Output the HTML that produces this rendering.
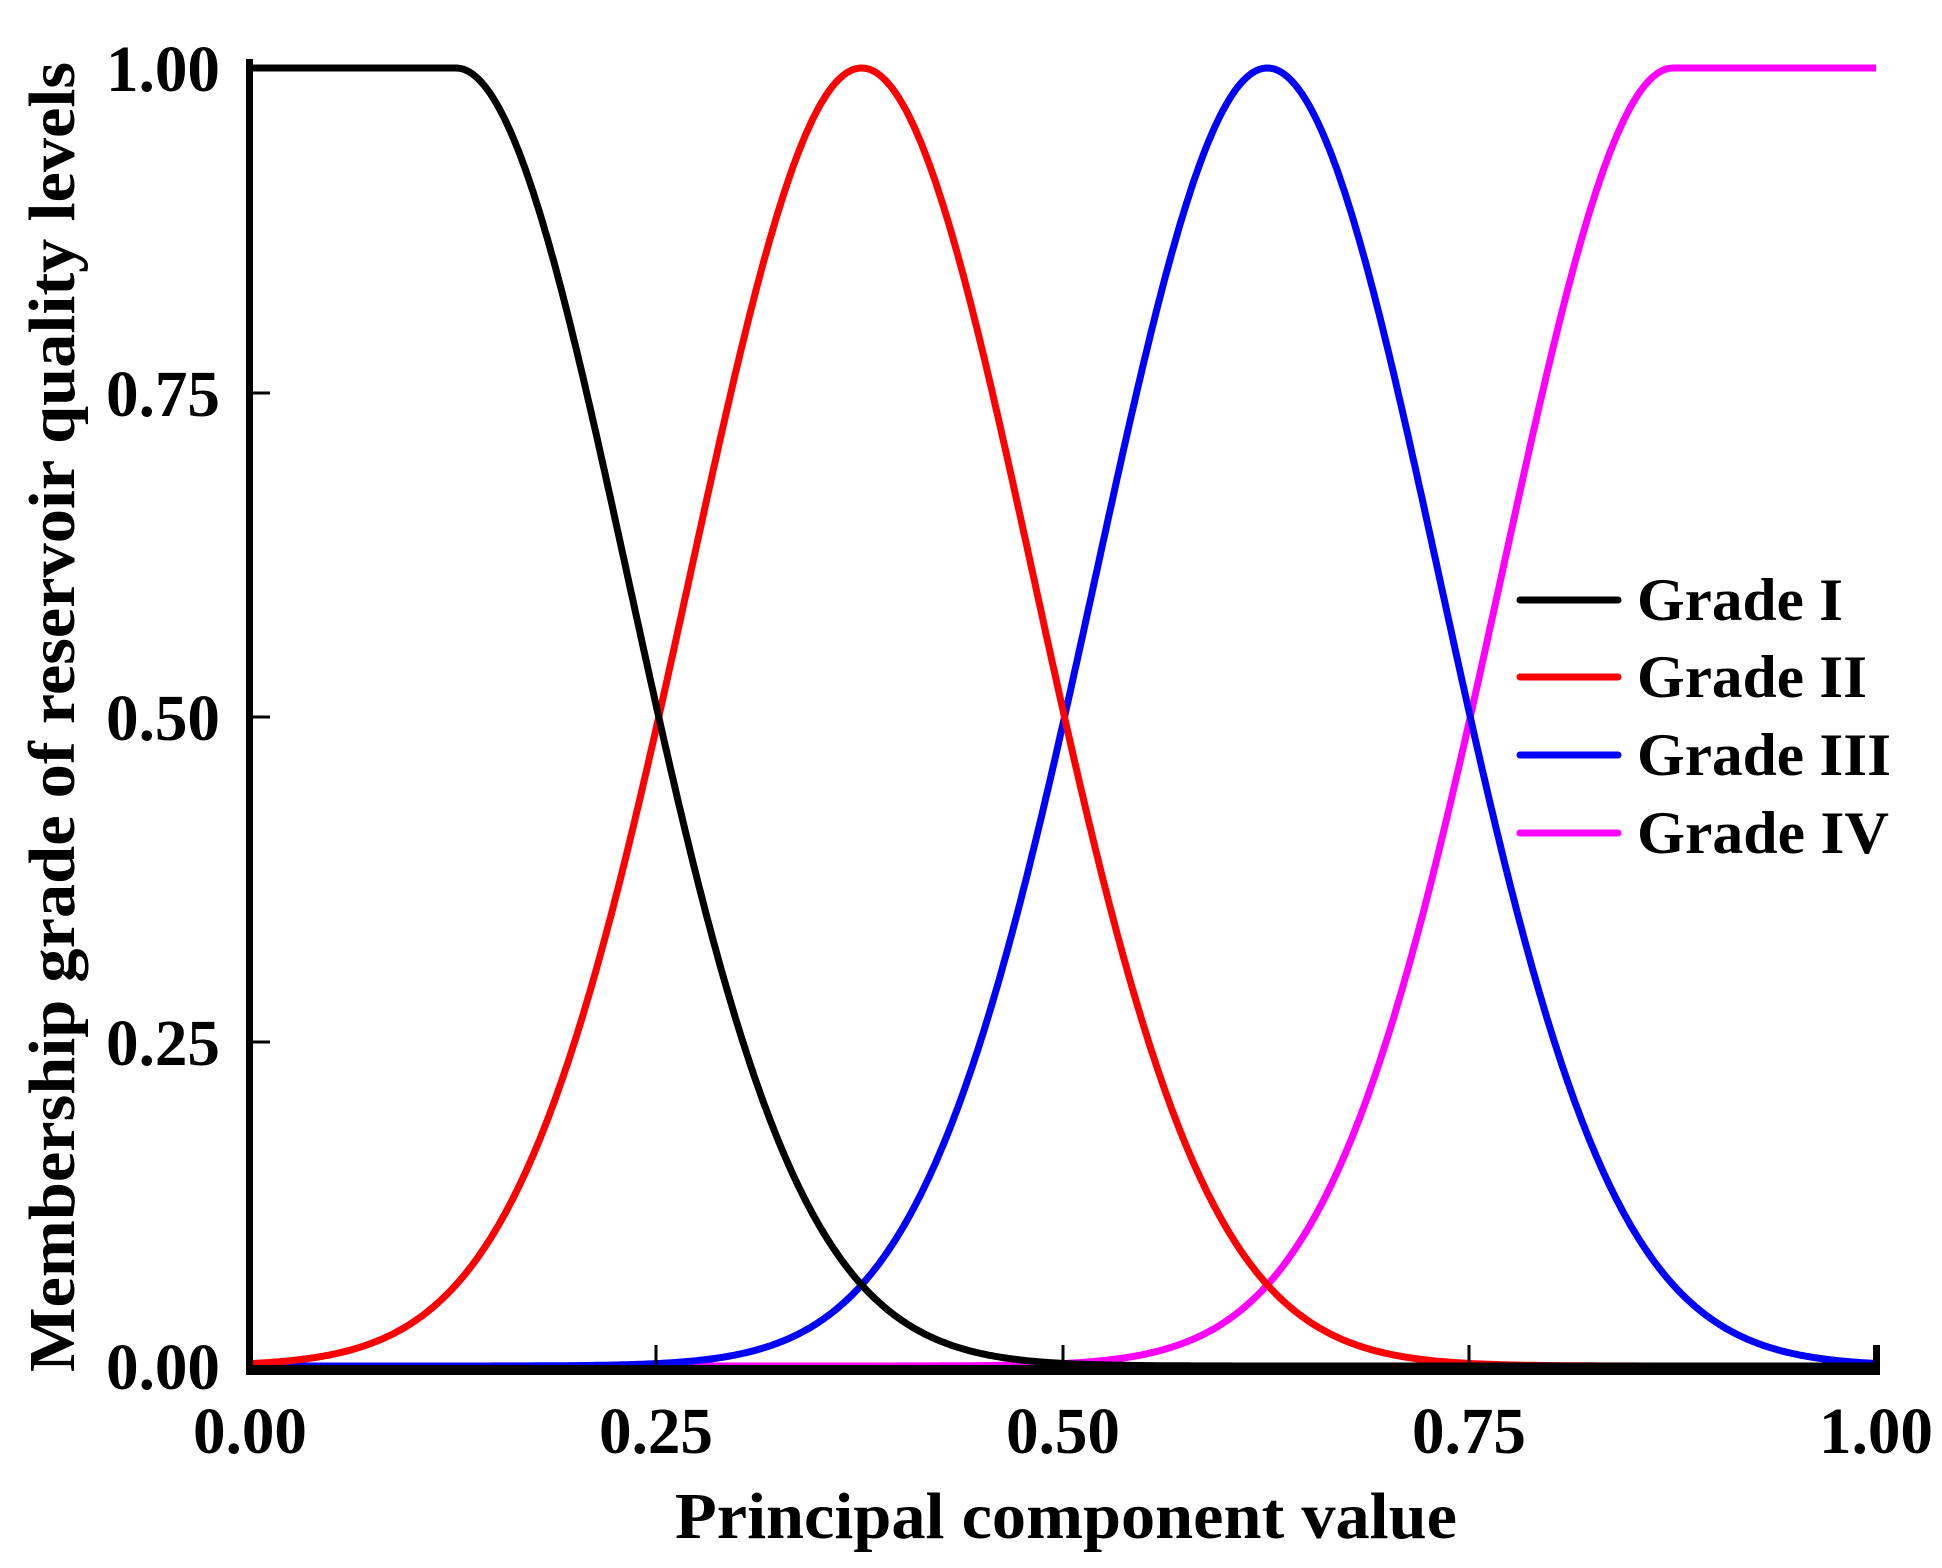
<!DOCTYPE html>
<html><head><meta charset="utf-8"><style>
html,body{margin:0;padding:0;background:#fff;}
svg{display:block;}
text{font-family:"Liberation Serif",serif;font-weight:bold;fill:#000;}
</style></head><body>
<svg id="s" width="1942" height="1568" viewBox="0 0 1942 1568" xmlns="http://www.w3.org/2000/svg">
<g font-size="66">
<text x="220" y="91" text-anchor="end" textLength="114" lengthAdjust="spacingAndGlyphs">1.00</text>
<text x="220" y="416" text-anchor="end" textLength="114" lengthAdjust="spacingAndGlyphs">0.75</text>
<text x="220" y="740" text-anchor="end" textLength="114" lengthAdjust="spacingAndGlyphs">0.50</text>
<text x="220" y="1065" text-anchor="end" textLength="114" lengthAdjust="spacingAndGlyphs">0.25</text>
<text x="220" y="1389" text-anchor="end" textLength="114" lengthAdjust="spacingAndGlyphs">0.00</text>
<text x="250" y="1453" text-anchor="middle" textLength="114" lengthAdjust="spacingAndGlyphs">0.00</text>
<text x="656" y="1453" text-anchor="middle" textLength="114" lengthAdjust="spacingAndGlyphs">0.25</text>
<text x="1063" y="1453" text-anchor="middle" textLength="114" lengthAdjust="spacingAndGlyphs">0.50</text>
<text x="1469" y="1453" text-anchor="middle" textLength="114" lengthAdjust="spacingAndGlyphs">0.75</text>
<text x="1876" y="1453" text-anchor="middle" textLength="114" lengthAdjust="spacingAndGlyphs">1.00</text>
</g>
<text x="1066" y="1538" text-anchor="middle" font-size="66" textLength="782" lengthAdjust="spacingAndGlyphs">Principal component value</text>
<text transform="translate(74,717) rotate(-90)" text-anchor="middle" font-size="66" textLength="1310" lengthAdjust="spacingAndGlyphs">Membership grade of reservoir quality levels</text>
<g id="curves" fill="none" stroke-width="7" stroke-linejoin="round"></g>
<g stroke="#000">
<line x1="249.5" y1="59" x2="249.5" y2="1375" stroke-width="7"/>
<line x1="246" y1="1370" x2="1880" y2="1370" stroke-width="10"/>
<line x1="1876.5" y1="1345" x2="1876.5" y2="1370" stroke-width="7"/>
<line x1="656" y1="1345" x2="656" y2="1366" stroke-width="3"/>
<line x1="1063" y1="1345" x2="1063" y2="1366" stroke-width="3"/>
<line x1="1469" y1="1345" x2="1469" y2="1366" stroke-width="3"/>
<line x1="250" y1="1042" x2="270" y2="1042" stroke-width="3"/>
<line x1="250" y1="717" x2="270" y2="717" stroke-width="3"/>
<line x1="250" y1="393" x2="270" y2="393" stroke-width="3"/>
<line x1="250" y1="68" x2="270" y2="68" stroke-width="3"/>
</g>
<g stroke-width="7" stroke-linecap="round">
<line x1="1520" y1="600" x2="1618" y2="600" stroke="#000"/>
<line x1="1520" y1="677" x2="1618" y2="677" stroke="#f00"/>
<line x1="1520" y1="755" x2="1618" y2="755" stroke="#00f"/>
<line x1="1520" y1="833" x2="1618" y2="833" stroke="#f0f"/>
</g>
<g font-size="60">
<text x="1637" y="620" textLength="206" lengthAdjust="spacingAndGlyphs">Grade I</text>
<text x="1637" y="697" textLength="230" lengthAdjust="spacingAndGlyphs">Grade II</text>
<text x="1637" y="775" textLength="254" lengthAdjust="spacingAndGlyphs">Grade III</text>
<text x="1637" y="853" textLength="252" lengthAdjust="spacingAndGlyphs">Grade IV</text>
</g>
</svg>
<script>
(function(){
var X0=250,X1=1876,Y0=1366,Y1=68;
var s2=0.015625/(2*Math.log(2))*2;
function g(x,c){return Math.exp(-(x-c)*(x-c)/s2);}
var fs=[
 ["#f0f",function(x){return x>=0.875?1:g(x,0.875);}],
 ["#00f",function(x){return g(x,0.625);}],
 ["#f00",function(x){return g(x,0.375);}],
 ["#000",function(x){return x<=0.125?1:g(x,0.125);}]
];
var G=document.getElementById("curves");
fs.forEach(function(f){
 var d="";
 for(var i=0;i<=800;i++){var x=i/800;var px=X0+3+(X1-X0-3)*x;var py=Y0-(Y0-Y1)*f[1](x);
  d+=(i?"L":"M")+px.toFixed(1)+" "+py.toFixed(1);}
 var p=document.createElementNS("http://www.w3.org/2000/svg","path");
 p.setAttribute("d",d);p.setAttribute("stroke",f[0]);G.appendChild(p);
});
})();
</script>
</body></html>
